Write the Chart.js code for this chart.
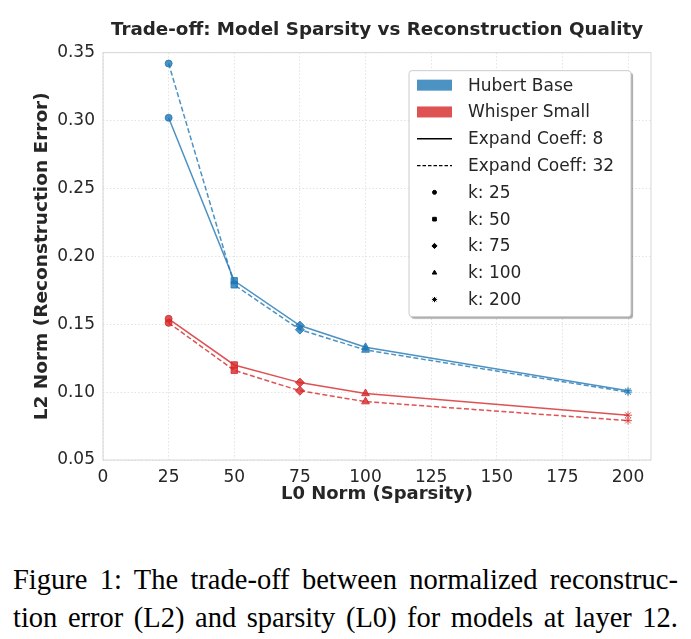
<!DOCTYPE html>
<html>
<head>
<meta charset="utf-8">
<script src="https://cdn.jsdelivr.net/npm/chart.js@4.4.0/dist/chart.umd.min.js"></script>
<style>
  body { margin: 0; background: #fff; }
  #wrap { position: relative; width: 691px; height: 520px; }
  .cap { position: absolute; left: 13px; width: 665px; font-family: "Liberation Serif", serif; font-size: 28.5px; color: #000; text-align: justify; text-align-last: justify; line-height: 1; }
</style>
</head>
<body>
<div id="wrap"><canvas id="chart"></canvas></div>
<div class="cap" style="top:566px">Figure 1: The trade-off between normalized reconstruc-</div>
<div class="cap" style="top:604px">tion error (L2) and sparsity (L0) for models at layer 12.</div>
<script>
// values
var kValues = [25, 50, 75, 100, 200];
var hubertCoeff8 = [0.302, 0.182, 0.149, 0.133, 0.101];
var hubertCoeff32 = [0.342, 0.179, 0.146, 0.131, 0.100];
var whisperCoeff8 = [0.154, 0.120, 0.107, 0.099, 0.083];
var whisperCoeff32 = [0.151, 0.116, 0.101, 0.093, 0.079];

var modelNames = ["Hubert Base", "Whisper Small"];
var modelColors = ["rgba(31,119,180,0.8)", "rgba(214,39,40,0.8)"];
var coeffs = [8, 32];
var markerStyles = ["circle", "rect", "rectRot", "triangle", "star"];
var markerSizes = [3.5, 4.5, 4.5, 4.5, 4];

var xTicks = [0, 25, 50, 75, 100, 125, 150, 175, 200];
var yTicks = [0.05, 0.10, 0.15, 0.20, 0.25, 0.30, 0.35];

var textColor = "#262626";
var fontName = "'DejaVu Sans', sans-serif";

function series(model, coeff, values) {
  return {
    label: modelNames[model] + " / " + coeff,
    data: kValues.map((k, i) => ({ x: k, y: values[i] })),
    borderColor: modelColors[model],
    backgroundColor: modelColors[model],
    borderWidth: 1.5,
    borderDash: coeff == 32 ? [5, 2.5] : [],
    pointStyle: markerStyles,
    pointRadius: markerSizes,
    pointBorderWidth: 1,
    pointBackgroundColor: modelColors[model],
    pointBorderColor: modelColors[model],
    tension: 0,
  };
}

// frame around the plot
const framePlugin = {
  id: "frame",
  beforeDatasetsDraw(chart) {
    const { ctx, chartArea: a } = chart;
    ctx.save();
    ctx.strokeStyle = "#d6d6d6";
    ctx.lineWidth = 1;
    ctx.strokeRect(a.left, a.top, a.right - a.left, a.bottom - a.top);
    ctx.restore();
  },
};

// matplotlib style legend box
const legendPlugin = {
  id: "boxLegend",
  afterDraw(chart) {
    const { ctx, chartArea: a } = chart;
    const bx = a.right - 242, by = a.top + 18, bw = 222, bh = 246;
    ctx.save();
    ctx.shadowColor = "rgba(0,0,0,0.35)";
    ctx.shadowOffsetX = 2;
    ctx.shadowOffsetY = 2;
    ctx.shadowBlur = 1;
    ctx.fillStyle = "#fff";
    ctx.beginPath();
    ctx.roundRect(bx, by, bw, bh, 3);
    ctx.fill();
    ctx.shadowColor = "transparent";
    ctx.strokeStyle = "#cccccc";
    ctx.lineWidth = 1;
    ctx.stroke();

    const rowH = 26.8;
    const iconL = bx + 8, iconW = 35, iconC = iconL + iconW / 2;
    const textX = bx + 59;
    let y = by + 14.5;
    ctx.font = "17px " + fontName;
    ctx.textBaseline = "middle";

    const rows = [];
    modelNames.forEach((n, i) => rows.push({ text: n, kind: "patch", color: modelColors[i] }));
    coeffs.forEach((c, i) => rows.push({ text: "Expand Coeff: " + c, kind: "line", dash: i ? [3.5, 2] : [] }));
    kValues.forEach((k, i) => rows.push({ text: "k: " + k, kind: "marker", style: markerStyles[i] }));

    rows.forEach((r) => {
      if (r.kind == "patch") {
        ctx.fillStyle = r.color;
        ctx.fillRect(iconL, y - 5.5, iconW, 11);
      } else if (r.kind == "line") {
        ctx.strokeStyle = "#000";
        ctx.lineWidth = 1.3;
        ctx.setLineDash(r.dash);
        ctx.beginPath();
        ctx.moveTo(iconL, y);
        ctx.lineTo(iconL + iconW, y);
        ctx.stroke();
        ctx.setLineDash([]);
      } else {
        ctx.fillStyle = "#000";
        ctx.strokeStyle = "#000";
        ctx.lineWidth = 1;
        Chart.helpers.drawPoint(ctx, { pointStyle: r.style, radius: r.style == "circle" ? 2 : 2.6, borderWidth: 1 }, iconC, y);
      }
      ctx.fillStyle = textColor;
      ctx.fillText(r.text, textX, y + 1);
      y += rowH;
    });
    ctx.restore();
  },
};

const datasets = [
  series(0, 8, hubertCoeff8),
  series(0, 32, hubertCoeff32),
  series(1, 8, whisperCoeff8),
  series(1, 32, whisperCoeff32),
];

new Chart(document.getElementById("chart"), {
  type: "line",
  data: { datasets: datasets },
  options: {
    responsive: true,
    maintainAspectRatio: false,
    animation: false,
    layout: { padding: { left: 0, top: 0, bottom: 0, right: 40 } },
    plugins: {
      legend: { display: false },
      tooltip: { enabled: false },
      title: {
        display: true,
        text: "Trade-off: Model Sparsity vs Reconstruction Quality",
        fullSize: false,
        color: textColor,
        font: { family: fontName, size: 18.3, weight: "bold" },
        padding: { top: 19.5, bottom: 11.2 },
      },
    },
    scales: {
      x: {
        type: "linear",
        min: 0,
        max: 208.75,
        afterFit: (s) => { s.height = 60; },
        afterBuildTicks: (s) => { s.ticks = xTicks.map((v) => ({ value: v })); },
        grid: { color: "#e3e3e3", drawTicks: false },
        border: { display: false, dash: [1.5, 2] },
        ticks: { color: textColor, padding: 7, font: { family: fontName, size: 17 } },
        title: {
          display: true,
          text: "L0 Norm (Sparsity)",
          color: textColor,
          font: { family: fontName, size: 18, weight: "bold" },
          padding: { top: 0, bottom: 15 },
        },
      },
      y: {
        min: 0.05,
        max: 0.35,
        afterFit: (s) => { s.width = 103; },
        afterBuildTicks: (s) => { s.ticks = yTicks.map((v) => ({ value: v })); },
        grid: { color: "#e3e3e3", drawTicks: false },
        border: { display: false, dash: [1.5, 2] },
        ticks: {
          color: textColor,
          padding: 8,
          font: { family: fontName, size: 17 },
          callback: (v) => v.toFixed(2),
        },
        title: {
          display: true,
          text: "L2 Norm (Reconstruction Error)",
          color: textColor,
          font: { family: fontName, size: 18.5, weight: "bold" },
          padding: { top: 31.5, bottom: 0 },
        },
      },
    },
  },
  plugins: [framePlugin, legendPlugin],
});
</script>
</body>
</html>
